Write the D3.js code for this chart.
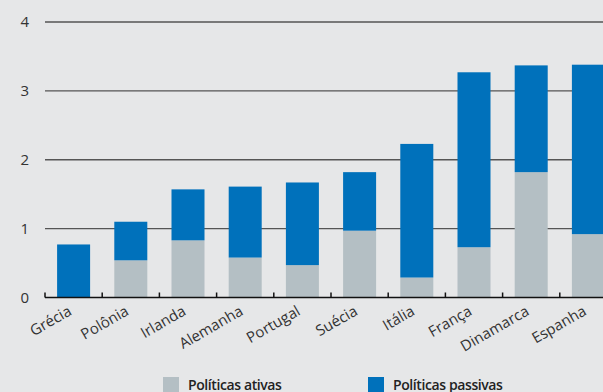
<!DOCTYPE html>
<html>
<head>
<meta charset="utf-8">
<script src="https://cdn.jsdelivr.net/npm/d3@7"></script>
<style>
  html, body { margin: 0; padding: 0; background: #e6e7e8; }
  svg { display: block; font-family: "Open Sans", "Noto Sans", sans-serif; }
</style>
</head>
<body>
<div id="chart"></div>
<script>
const countries = ['Grécia', 'Polônia', 'Irlanda', 'Alemanha', 'Portugal', 'Suécia', 'Itália', 'França', 'Dinamarca', 'Espanha'];
const ativas = [0, 0.54, 0.83, 0.58, 0.47, 0.97, 0.29, 0.73, 1.82, 0.92];
const passivas = [0.77, 0.56, 0.74, 1.03, 1.20, 0.85, 1.94, 2.54, 1.55, 2.46];
const yTicks = [0, 1, 2, 3, 4];
const seriesNames = ['Políticas ativas', 'Políticas passivas'];
const seriesColors = ['#b4bfc4', '#0071bb'];

const width = 603;
const height = 392;

const svg = d3.select('#chart')
  .append('svg')
  .attr('width', width)
  .attr('height', height);

// band scale runs past the right edge, like the original (Espanha is clipped)
const xScale = d3.scaleBand()
  .domain(countries)
  .range([45, 617])
  .paddingInner(0.423)
  .paddingOuter(0.2115);

const yScale = d3.scaleLinear()
  .domain([0, 4])
  .range([297.5, 22]);

// gridlines
svg.append('g')
  .selectAll('line')
    .data(yTicks.filter(d => d > 0))
  .join('line')
    .attr('x1', 45)
    .attr('x2', width)
    .attr('y1', d => yScale(d))
    .attr('y2', d => yScale(d))
    .attr('stroke', '#555')
    .attr('stroke-width', 1.4);

// y labels
svg.append('g')
  .selectAll('text')
    .data(yTicks)
  .join('text')
    .attr('x', 29)
    .attr('y', d => yScale(d) + 5)
    .attr('text-anchor', 'end')
    .attr('font-size', 15)
    .attr('fill', '#333')
    .text(d => d);

// stacked bars
const rows = countries.map((c, i) => ({ country: c, ativas: ativas[i], passivas: passivas[i] }));
const stack = d3.stack().keys(['ativas', 'passivas'])(rows);

svg.append('g')
  .selectAll('g')
    .data(stack)
  .join('g')
    .attr('fill', (d, i) => seriesColors[i])
  .selectAll('rect')
    .data(d => d.filter(p => p[1] > p[0]))
  .join('rect')
    .attr('x', d => xScale(d.data.country))
    .attr('y', d => yScale(d[1]))
    .attr('width', xScale.bandwidth())
    .attr('height', d => yScale(d[0]) - yScale(d[1]));

// baseline with upward ticks between categories
const axis = svg.append('g');
axis.append('line')
  .attr('x1', 45)
  .attr('x2', width)
  .attr('y1', yScale(0))
  .attr('y2', yScale(0))
  .attr('stroke', '#111')
  .attr('stroke-width', 1.5);

const step = xScale.step();
axis.selectAll('.tick')
    .data(d3.range(countries.length + 1))
  .join('line')
    .attr('class', 'tick')
    .attr('x1', i => 45 + i * step)
    .attr('x2', i => 45 + i * step)
    .attr('y1', yScale(0))
    .attr('y2', yScale(0) - 5)
    .attr('stroke', '#111')
    .attr('stroke-width', 1.5);

// rotated category labels
svg.append('g')
  .selectAll('text')
    .data(countries)
  .join('text')
    .attr('transform', d => `translate(${xScale(d) + xScale.bandwidth() / 2 - 1},${314}) rotate(-30)`)
    .attr('text-anchor', 'end')
    .attr('font-size', 15)
    .attr('fill', '#333')
    .text(d => d);

// legend
const legendX = [163, 368];
const legend = svg.append('g')
  .selectAll('g')
    .data(seriesNames)
  .join('g')
    .attr('transform', (d, i) => `translate(${legendX[i]},377)`);

legend.append('rect')
  .attr('width', 16)
  .attr('height', 16)
  .attr('fill', (d, i) => seriesColors[i]);

legend.append('text')
  .attr('x', 25)
  .attr('y', 12.5)
  .attr('font-size', 14)
  .attr('font-weight', 600)
  .attr('letter-spacing', -0.4)
  .attr('fill', '#222')
  .text(d => d);
</script>
</body>
</html>
